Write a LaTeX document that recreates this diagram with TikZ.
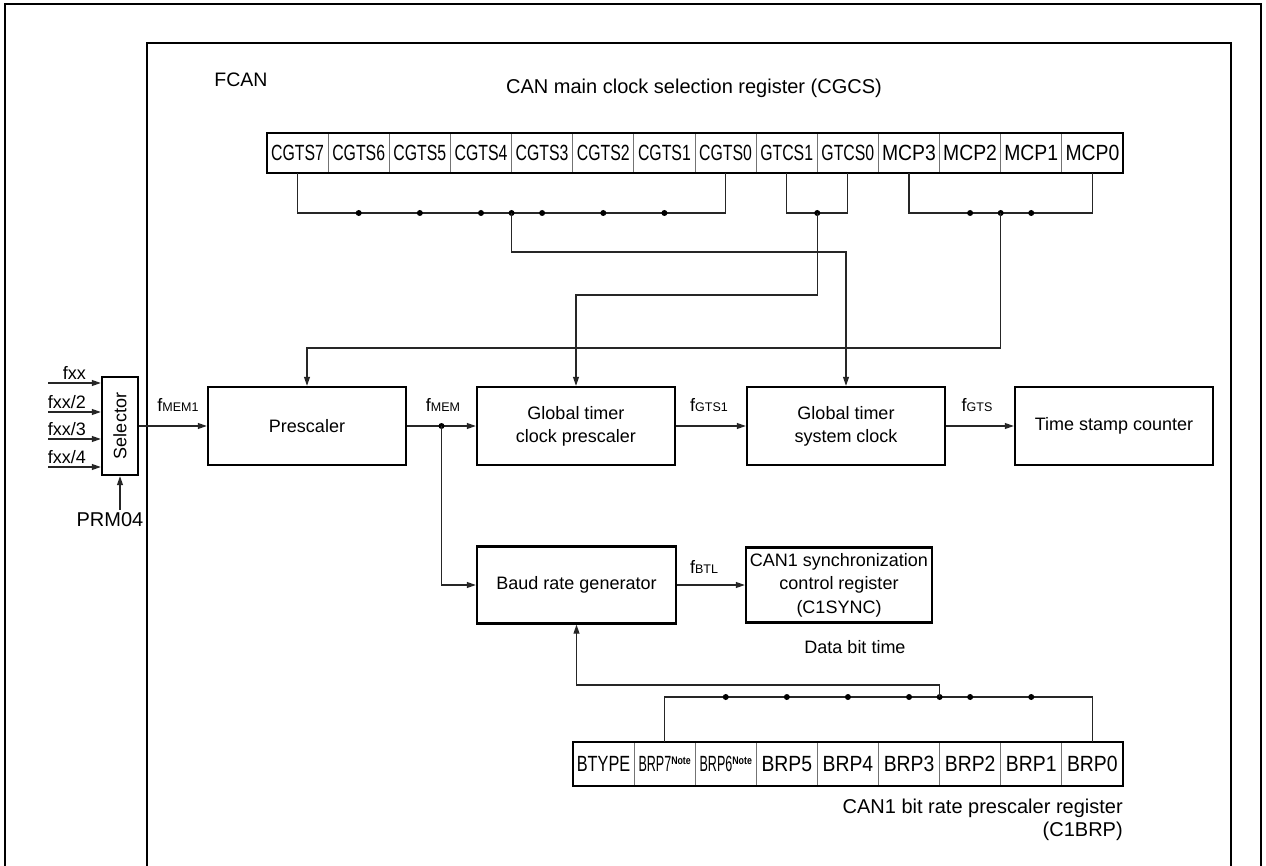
\documentclass[tikz,border=0pt]{standalone}
\usepackage{fontspec}
\setmainfont{Liberation Sans}
\newfontfamily\cnda[FakeStretch=0.72]{Liberation Sans}
\newfontfamily\cndb[FakeStretch=0.88]{Liberation Sans}
\newfontfamily\cndc[FakeStretch=0.57]{Liberation Sans}
\newfontfamily\cndd[FakeStretch=0.74]{Liberation Sans}
\newfontfamily\cnde[FakeStretch=0.8]{Liberation Sans}
\usetikzlibrary{arrows.meta,calc}
\newcommand{\sbs}[1]{{\fontsize{12.5}{12.5}\selectfont #1}}
\newcommand{\notemark}{{\cnde\fontsize{11}{11}\selectfont\bfseries\raisebox{7pt}{Note}}}
\begin{document}
\begin{tikzpicture}[x=1pt,y=-1pt,
  blk/.style={draw, line width=2.4pt, minimum width=198pt, minimum height=78pt, align=center, font=\fontsize{18}{23}\selectfont, inner sep=2pt},
  cell/.style={draw=black!55, line width=0.9pt, minimum width=61.14pt, minimum height=40pt, inner sep=0pt, outer sep=0pt},
  con/.style={line width=1.15pt, black!85},
  arr/.style={con, -{Triangle[length=9pt,width=6pt]}},
  lbl/.style={font=\fontsize{18}{23}\selectfont, inner sep=0pt},
  frame/.style={line width=2.5pt}
]
\useasboundingbox (0,0) rectangle (1266,866);
% frames
\draw[frame] (5,875) -- (5,4) -- (1261,4) -- (1261,875);
\draw[frame] (147,875) -- (147,43) -- (1231,43) -- (1231,875);
\node[lbl, font=\fontsize{19.5}{20}\selectfont] (fcan) at (241,80) {FCAN};
\node[lbl, font=\fontsize{20}{20}\selectfont] (cgcs) at (694,88) {CAN main clock selection register (CGCS)};

% top register
\foreach \t [count=\i from 0] in {CGTS7,CGTS6,CGTS5,CGTS4,CGTS3,CGTS2,CGTS1,CGTS0}
  \node[cell,font=\cnda\fontsize{22}{22}\selectfont] (t\i) at ({267+61.14*(\i+0.5)},153) {\t};
\foreach \t [count=\i from 8] in {GTCS1,GTCS0}
  \node[cell,font=\cnda\fontsize{22}{22}\selectfont] (t\i) at ({267+61.14*(\i+0.5)},153) {\t};
\foreach \t [count=\i from 10] in {MCP3,MCP2,MCP1,MCP0}
  \node[cell,font=\cndb\fontsize{22}{22}\selectfont] (t\i) at ({267+61.14*(\i+0.5)},153) {\t};
\draw[line width=2.4pt] (t0.north west) rectangle (t13.south east);

% top buses
\draw[con] (t0.south) -- ++(0,40) -| (t7.south);
\coordinate (cj) at ($(t3.south east)+(0,40)$);
\foreach \i in {1,...,6} \fill (t\i.south |- cj) circle (3);
\fill (cj) circle (3);
\draw[con] (t8.south) -- ++(0,40) -| (t9.south);
\coordinate (gj) at ($(t8.south east)+(0,40)$);
\fill (gj) circle (3);
\draw[con] (t10.south) -- ++(0,40) -| (t13.south);
\coordinate (mj) at ($(t11.south east)+(0,40)$);
\fill (t11.south |- mj) circle (3);
\fill (t12.south |- mj) circle (3);
\fill (mj) circle (3);

% main blocks
\node[draw, line width=2.4pt, minimum width=36pt, minimum height=98pt, inner sep=0pt] (sel) at (120,426) {\fontsize{18}{18}\selectfont\rotatebox{90}{Selector}};
\node[blk] (pre) at (307,426) {Prescaler};
\node[blk] (gtcp) at (576,426) {Global timer\\clock prescaler};
\node[blk] (gtsc) at (846,426) {Global timer\\system clock};
\node[blk] (tsc) at (1114,426) {Time stamp counter};
\node[blk, minimum width=199pt, minimum height=77pt] (baud) at (576.5,585) {Baud rate generator};
\node[blk, minimum width=186pt, minimum height=75pt, inner sep=1pt, font=\fontsize{18}{23.5}\selectfont] (sync) at (839,585) {CAN1 synchronization\\control register\\(C1SYNC)};

% selector inputs
\coordinate (i1) at (48,383);
\coordinate (i2) at (48,412);
\coordinate (i3) at (48,439);
\coordinate (i4) at (48,467);
\foreach \n in {1,2,3,4} \draw[arr] (i\n) -- (i\n -| sel.west);
\node[lbl, anchor=south east] (l1) at ($(i1)+(38,-3)$) {fxx};
\node[lbl, anchor=south east] (l2) at ($(i2)+(38,-3)$) {fxx/2};
\node[lbl, anchor=south east] (l3) at ($(i3)+(38,-3)$) {fxx/3};
\node[lbl, anchor=south east] (l4) at ($(i4)+(38,-3)$) {fxx/4};
\node[lbl, font=\fontsize{20}{20}\selectfont] (prm) at (110,520) {PRM04};
\draw[arr] (prm.north -| sel.south) ++(0,-3) -- (sel.south);

% main flow
\draw[arr] (sel.east) -- (pre.west);
\node[lbl] (lm1) at (178,405) {f\sbs{MEM1}};
\draw[arr] (pre.east) -- (gtcp.west);
\coordinate (fm) at ($(pre.east)!0.5!(gtcp.west)$);
\fill (fm) circle (3);
\node[lbl] (lm) at (443,405) {f\sbs{MEM}};
\draw[arr] (fm) |- (baud.west);
\draw[arr] (gtcp.east) -- (gtsc.west);
\node[lbl] (lg1) at (709,405) {f\sbs{GTS1}};
\draw[arr] (gtsc.east) -- (tsc.west);
\node[lbl] (lg) at (977,405) {f\sbs{GTS}};
\draw[arr] (baud.east) -- (sync.west);
\node[lbl] (lb) at (704,567) {f\sbs{BTL}};

% register-to-block connectors
\draw[arr] (cj) -- ++(0,39) -| (gtsc.north);
\draw[arr] (gj) -- ++(0,82) -| (gtcp.north);
\draw[arr] (mj) -- ++(0,135) -| (pre.north);

% bottom register
\node[cell, minimum height=44pt, font=\cndd\fontsize{22}{22}\selectfont] (b0) at ({573+61.1*0.5},764) {BTYPE};
\node[cell, minimum height=44pt, font=\cndc\fontsize{22}{22}\selectfont] (b1) at ({573+61.1*1.5},764) {BRP7\notemark};
\node[cell, minimum height=44pt, font=\cndc\fontsize{22}{22}\selectfont] (b2) at ({573+61.1*2.5},764) {BRP6\notemark};
\foreach \t [count=\i from 3] in {BRP5,BRP4,BRP3,BRP2,BRP1,BRP0}
  \node[cell, minimum height=44pt, font=\cndb\fontsize{22}{22}\selectfont] (b\i) at ({573+61.1*(\i+0.5)},764) {\t};
\draw[line width=2.4pt] (b0.north west) rectangle (b8.south east);
\draw[con] (b1.north) -- ++(0,-45) -| (b8.north);
\coordinate (dj) at ($(b5.north east)+(0,-45)$);
\foreach \i in {2,...,7} \fill (b\i.north |- dj) circle (3);
\fill (dj) circle (3);
\draw[arr] (dj) -- ++(0,-12) -| (baud.south);
\node[lbl] (dbt) at (855,647) {Data bit time};
\node[lbl, font=\fontsize{20}{22.5}\selectfont, anchor=north east, align=right] (c1brp) at (b8.south east |- 0,799) {CAN1 bit rate prescaler register\\(C1BRP)};
\end{tikzpicture}
\end{document}
